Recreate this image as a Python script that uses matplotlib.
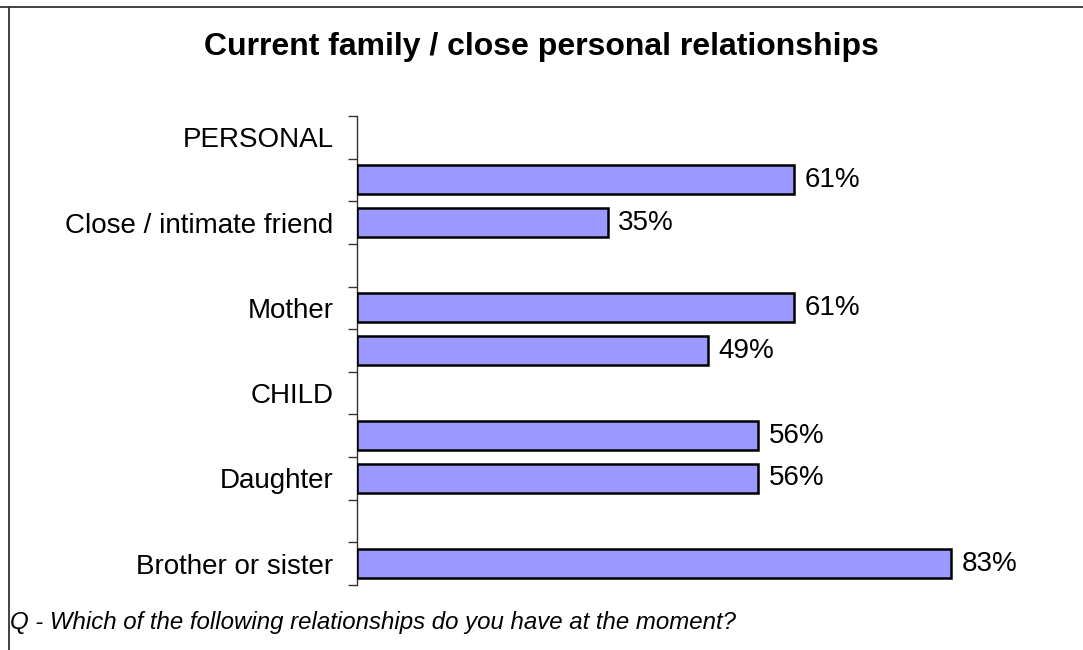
import numpy as np
import matplotlib
matplotlib.use("Agg")
import matplotlib.pyplot as plt
from matplotlib.lines import Line2D

plt.rcParams['font.family'] = ['Liberation Sans', 'DejaVu Sans']

title = "Current family / close personal relationships"
footnote = "Q - Which of the following relationships do you have at the moment?"
tick_labels = ["PERSONAL", "", "Close / intimate friend", "", "Mother", "",
               "CHILD", "", "Daughter", "", "Brother or sister"]
values = [np.nan, 61, 35, np.nan, 61, 49, np.nan, 56, 56, np.nan, 83]

W, H = 1083, 650
fig = plt.figure(figsize=(W / 100, H / 100), dpi=100)
fig.patch.set_facecolor("white")

left, right = 357, 357 + 716
top, bottom = 116, 585
ax = fig.add_axes([left / W, 1 - bottom / H, (right - left) / W, (bottom - top) / H])

y = np.arange(len(tick_labels))
vals = np.array(values, dtype=float)
mask = ~np.isnan(vals)
ax.barh(y[mask], vals[mask], height=0.68, color="#9999FF",
        edgecolor="black", linewidth=1.8, zorder=3)
for yi, v in zip(y[mask], vals[mask]):
    ax.annotate(f"{int(v)}%", xy=(v, yi), xytext=(7.5, 0),
                textcoords="offset points", va="center", ha="left",
                fontsize=20, color="black")

ax.set_xlim(0, 100)
ax.set_ylim(len(tick_labels) - 0.5, -0.5)
ax.set_yticks(y)
ax.set_yticklabels(tick_labels, fontsize=20)
ax.set_yticks(np.arange(-0.5, len(tick_labels), 1.0), minor=True)
ax.tick_params(axis="y", which="major", length=0, pad=17)
ax.tick_params(axis="y", which="minor", length=6.5, width=1.0, color="#333333")
ax.set_xticks([])
for s in ["top", "right", "bottom"]:
    ax.spines[s].set_visible(False)
ax.spines["left"].set_linewidth(1.0)
ax.spines["left"].set_color("#333333")
ax.patch.set_alpha(0)

fig.text(541 / W, 1 - 47.5 / H, title, ha="center", va="center",
         fontsize=23, fontweight="bold")
fig.text(10 / W, 1 - 622 / H, footnote, ha="left", va="center",
         fontsize=17.3, style="italic")

fig.add_artist(Line2D([0, 1], [1 - 6.5 / H, 1 - 6.5 / H], transform=fig.transFigure,
                      color="#333333", linewidth=1.3))
fig.add_artist(Line2D([8.5 / W, 8.5 / W], [0, 1 - 6.5 / H], transform=fig.transFigure,
                      color="#333333", linewidth=1.3))

fig.savefig("out.png", dpi=100)
